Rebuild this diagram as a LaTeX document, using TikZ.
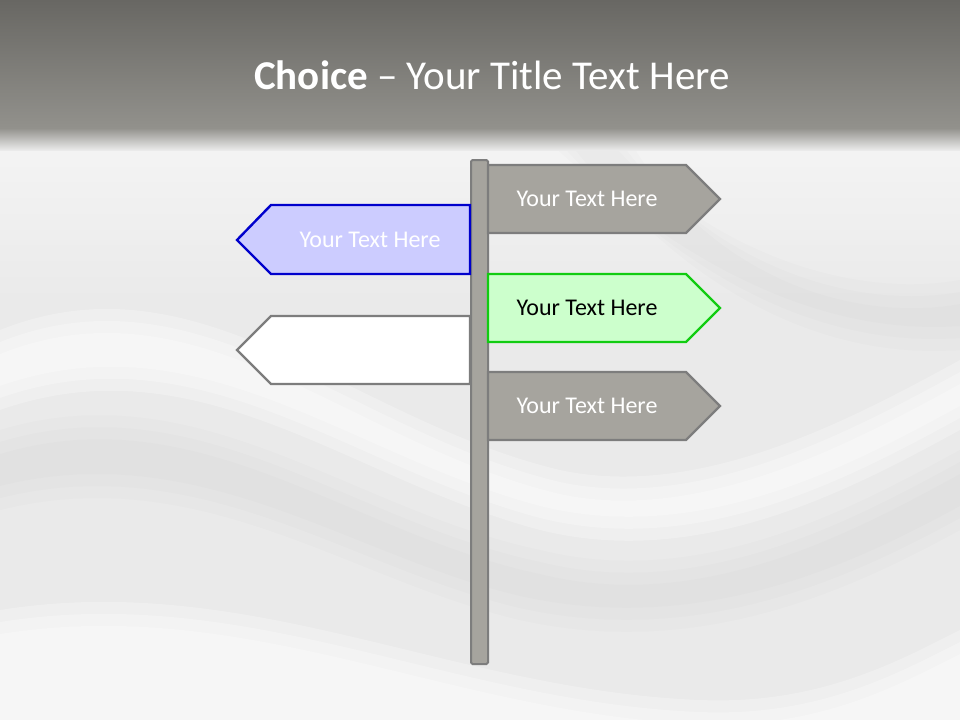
\documentclass[tikz,border=0pt]{standalone}
\usepackage{fontspec}
\setmainfont{Carlito}
\definecolor{bandtop}{RGB}{104,103,99}
\definecolor{bandbot}{RGB}{146,145,140}
\definecolor{satin}{RGB}{234,234,234}
\definecolor{signgray}{RGB}{166,164,158}
\definecolor{edgegray}{RGB}{125,125,125}
\definecolor{bluefill}{RGB}{204,204,255}
\definecolor{blueedge}{RGB}{0,0,204}
\definecolor{greenfill}{RGB}{204,255,204}
\definecolor{greenedge}{RGB}{17,204,17}
\tikzset{
  rsign/.style={line width=2.4pt, line join=miter},
  signtext/.style={font=\fontsize{24}{28}\selectfont, anchor=center, inner sep=0pt},
  fold/.style={opacity=0.25},
}
\begin{document}
\begin{tikzpicture}[x=1pt,y=-1pt]
\useasboundingbox (0,0) rectangle (960,720);
% background
\fill[satin] (0,0) rectangle (960,720);
\shade[top color=white!92!gray, bottom color=satin] (0,130) rectangle (960,300);
% subtle satin folds (layered for soft edges)
\foreach \d in {0,12,24}{
\fill[white, fold] (0,330+\d) .. controls (200,250+\d) and (350,420+\d) .. (560,470+\d) .. controls (700,500+\d) and (850,420+\d) .. (960,360+\d) -- (960,430-\d) .. controls (850,490-\d) and (700,570-\d) .. (540,530-\d) .. controls (350,480-\d) and (200,340-\d) .. (0,410-\d) -- cycle;
\fill[black!60, opacity=0.02] (0,430+\d) .. controls (200,370+\d) and (350,510+\d) .. (540,550+\d) .. controls (700,590+\d) and (850,510+\d) .. (960,450+\d) -- (960,530-\d) .. controls (850,590-\d) and (700,660-\d) .. (520,620-\d) .. controls (350,580-\d) and (200,460-\d) .. (0,510-\d) -- cycle;
\fill[black!60, opacity=0.02] (600+\d,130) .. controls (700,250+\d) and (850,300+\d) .. (960,280+\d) -- (960,350-\d) .. controls (820,360-\d) and (680,290-\d) .. (560-\d,130) -- cycle;
\fill[white, fold] (0,610+\d) .. controls (250,570+\d) and (450,690+\d) .. (700,700+\d) .. controls (820,705+\d) and (900,660+\d) .. (960,630+\d) -- (960,720) -- (0,720) -- cycle;
}
% title band
\shade[top color=bandtop, bottom color=bandbot] (0,0) rectangle (960,128);
\shade[top color=bandbot, bottom color=satin] (0,128) rectangle (960,150);
\node[font=\fontsize{41}{48}\selectfont, text=white, inner sep=0pt] (title) at (492,75) {\textbf{Choice} – Your Title Text Here};
% post
\draw[fill=signgray, draw=edgegray, line width=2pt, rounded corners=1.5pt] (471,160) rectangle (488,664);
% sign 1 (right, gray)
\draw[rsign, fill=signgray, draw=edgegray] (488,165) -- (686,165) -- (720,199) -- (686,233) -- (488,233) -- cycle;
\node[signtext, text=white] (t1) at (587,199) {Your Text Here};
% sign 2 (left, blue)
\draw[rsign, fill=bluefill, draw=blueedge] (470,205) -- (271,205) -- (237,240) -- (271,274) -- (470,274) -- cycle;
\node[signtext, text=white] (t2) at (370,240) {Your Text Here};
% sign 3 (right, green)
\draw[rsign, fill=greenfill, draw=greenedge] (488,274) -- (686,274) -- (720,308) -- (686,342) -- (488,342) -- cycle;
\node[signtext, text=black] (t3) at (587,308) {Your Text Here};
% sign 4 (left, white)
\draw[rsign, fill=white, draw=edgegray] (470,316) -- (271,316) -- (237,350) -- (271,384) -- (470,384) -- cycle;
% sign 5 (right, gray)
\draw[rsign, fill=signgray, draw=edgegray] (488,372) -- (686,372) -- (720,406) -- (686,440) -- (488,440) -- cycle;
\node[signtext, text=white] (t5) at (587,406) {Your Text Here};
\end{tikzpicture}
\end{document}
